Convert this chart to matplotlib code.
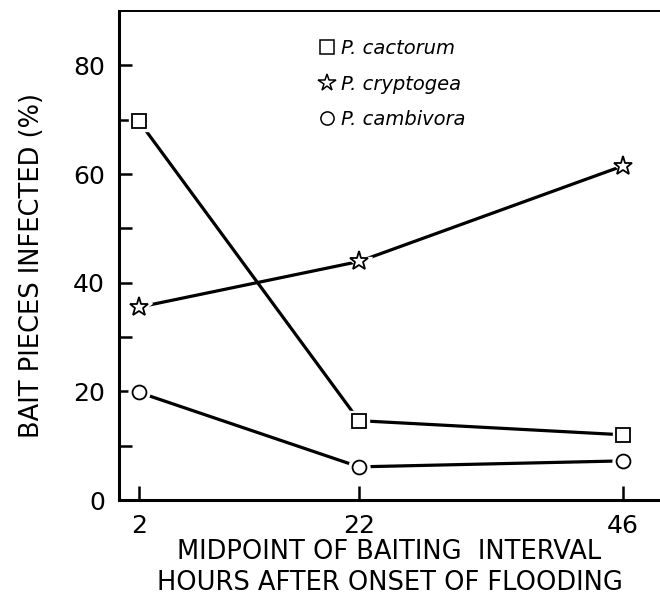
import matplotlib
matplotlib.use('Agg')
import matplotlib.pyplot as plt
from matplotlib.lines import Line2D

plt.rcParams['font.family'] = ['DejaVu Sans']

# 数据：各诱饵时段中点（小时）及感染百分比
hours = [2, 22, 46]
cactorum = [69.7, 14.6, 12.0]
cryptogea = [35.5, 43.9, 61.5]
cambivora = [19.8, 6.1, 7.2]
species = ['P. cactorum', 'P. cryptogea', 'P. cambivora']
markers = ['s', '*', 'o']
yticks_major = [0, 20, 40, 60, 80]
yticks_minor = [10, 30, 50, 70]

fig = plt.figure(figsize=(6.6, 5.99), dpi=100)
ax = fig.add_axes([119/660, 1-500/599, 1-119/660, (500-11)/599])

for vals, m in zip([cactorum, cryptogea, cambivora], markers):
    ms = 14 if m == '*' else 10
    ax.plot(hours, vals, color='black', lw=2.3, zorder=2)
    # 白色底，让线与标记之间留缝
    ax.plot(hours, vals, ls='none', marker=m, ms=ms+5, mfc='white', mec='white', zorder=3)
    ax.plot(hours, vals, ls='none', marker=m, ms=ms, mfc='white', mec='black', mew=1.3, zorder=4)

ax.set_xlim(0.18, 49.36)
ax.set_ylim(0, 90)
ax.set_xticks(hours)
ax.set_xticklabels([str(h) for h in hours])
ax.set_yticks(yticks_major)
ax.set_yticks(yticks_minor, minor=True)

ax.tick_params(axis='both', which='both', direction='in', width=1.8, color='black')
ax.tick_params(axis='y', which='both', length=9, labelsize=18, pad=10)
ax.tick_params(axis='x', which='major', length=10, labelsize=18, pad=10)

ax.spines['right'].set_visible(False)
ax.spines['left'].set_linewidth(2.2)
ax.spines['bottom'].set_linewidth(2.2)
ax.spines['top'].set_linewidth(1.4)

ax.set_ylabel('BAIT PIECES INFECTED (%)', fontsize=18.5)
ax.yaxis.set_label_coords(-0.137, 0.48)
ax.set_xlabel('MIDPOINT OF BAITING  INTERVAL\nHOURS AFTER ONSET OF FLOODING',
              fontsize=18.5, linespacing=1.22, labelpad=1)

handles = [Line2D([], [], ls='none', marker=m, ms=(13 if m == '*' else 9.5),
                  mfc='white', mec='black', mew=1.1) for m in markers]
leg = ax.legend(handles, species, loc='upper left', frameon=False,
                bbox_to_anchor=(318/660, 1-39/599), bbox_transform=fig.transFigure,
                borderpad=0, borderaxespad=0, handlelength=0.9, handletextpad=0.3,
                labelspacing=0.85, prop={'size': 14, 'style': 'italic'})

fig.savefig('out.png', dpi=100)
